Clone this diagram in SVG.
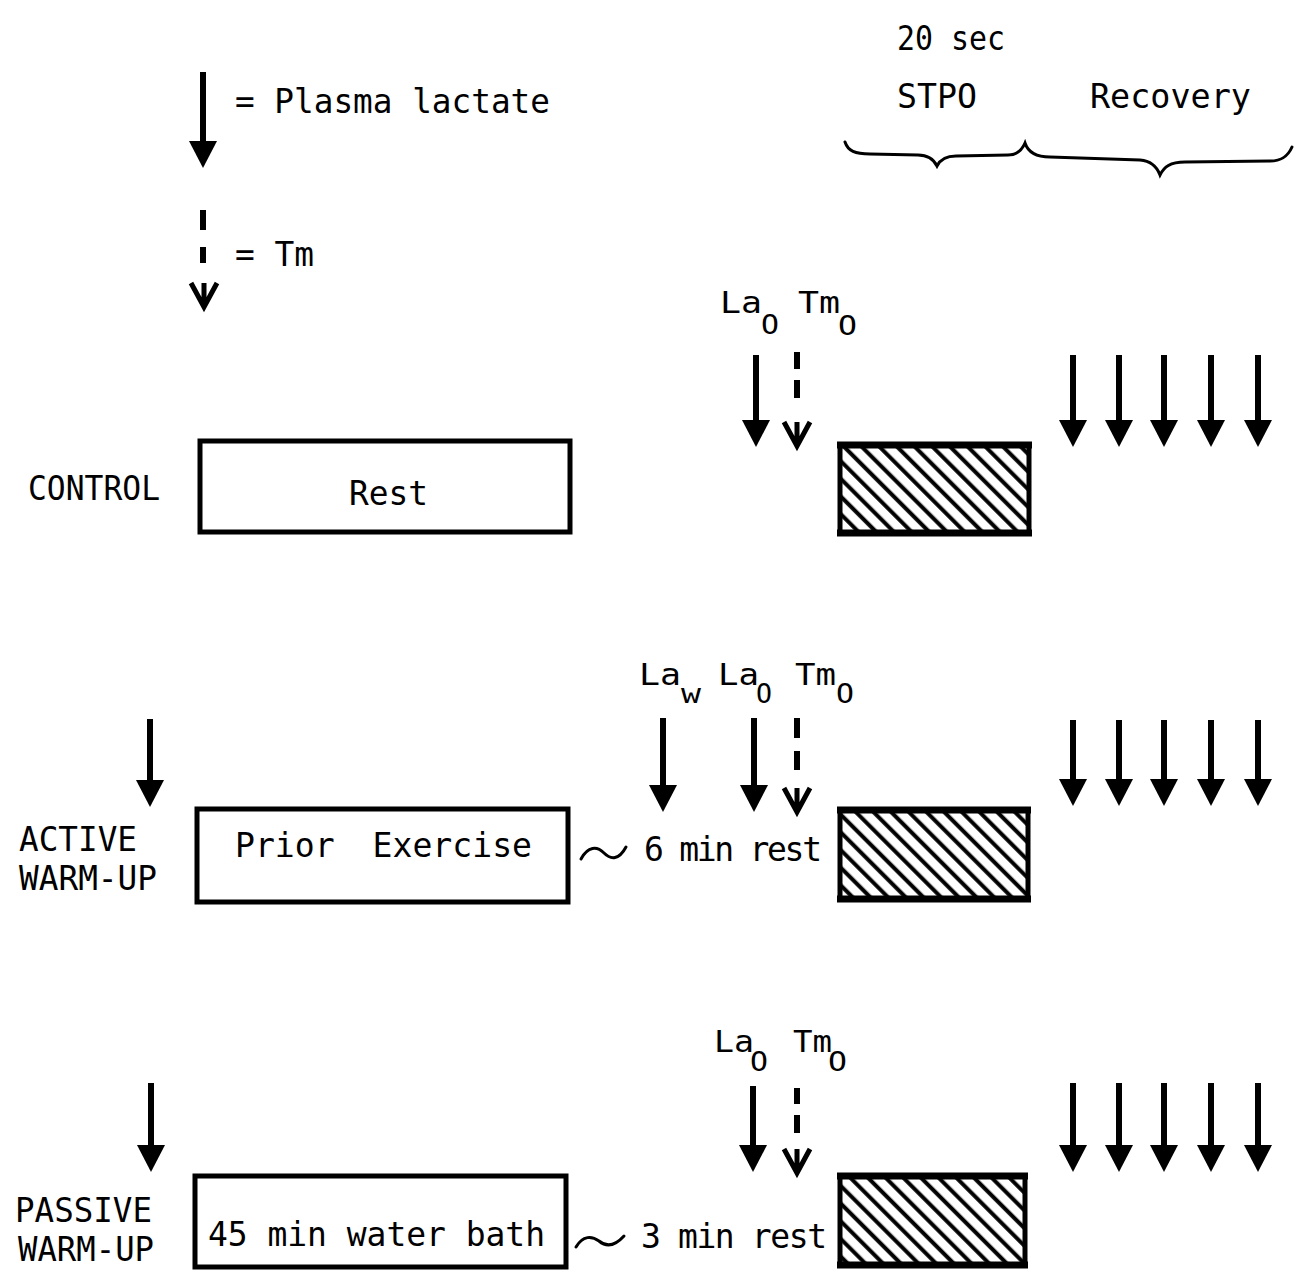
<svg xmlns="http://www.w3.org/2000/svg" xmlns:xlink="http://www.w3.org/1999/xlink" width="1296" height="1270" viewBox="0 0 1296 1270">
<style>
.t{font-family:"DejaVu Sans Mono","Liberation Mono",monospace;font-size:33px;fill:#000}
.lb{font-family:"DejaVu Sans Mono","Liberation Mono",monospace;font-size:30px;fill:#000}
.sb{font-family:"DejaVu Sans Mono","Liberation Mono",monospace;font-size:27px;fill:#000}
.box{fill:#fff;stroke:#000;stroke-width:5}
.hbox{fill:url(#hatch);stroke:#000;stroke-width:5}
.edge{stroke:#000;stroke-width:7}
.sa{stroke:#000;stroke-width:6;fill:none;marker-end:url(#ah)}
.da{stroke:#000;stroke-width:6;fill:none}
.vh{stroke:#000;stroke-width:5;fill:none;stroke-linejoin:miter}
.ln{stroke:#000;stroke-width:3;fill:none;stroke-linecap:round}
</style>
<defs>
<marker id="ah" viewBox="0 0 27 28" refX="7" refY="14" markerWidth="27" markerHeight="28" markerUnits="userSpaceOnUse" orient="auto">
<path d="M0,0 L27,14 L0,28 Z" fill="#000"/>
</marker>
<pattern id="hatch" patternUnits="userSpaceOnUse" width="12.5" height="12.5" patternTransform="rotate(-45)">
<rect width="12.5" height="12.5" fill="#fff"/>
<line x1="6" y1="-1" x2="6" y2="14" stroke="#000" stroke-width="4"/>
</pattern>
<path id="vh" d="M-13,-24 L0,0 L13,-24 M0,-24 L0,0"/>
</defs>

<g id="legend">
<line class="sa" x1="203" y1="72" x2="203" y2="148"/>
<text class="t" x="235" y="113" textLength="315" lengthAdjust="spacingAndGlyphs">= Plasma lactate</text>
<line class="da" x1="203" y1="210" x2="203" y2="230"/>
<line class="da" x1="203" y1="247" x2="203" y2="263"/>
<use xlink:href="#vh" class="vh" x="204" y="307"/>
<text class="t" x="235" y="266" textLength="79" lengthAdjust="spacingAndGlyphs">= Tm</text>
</g>

<g id="header">
<text class="t" x="897" y="50" textLength="108" lengthAdjust="spacingAndGlyphs">20 sec</text>
<text class="t" x="897" y="108" textLength="80" lengthAdjust="spacingAndGlyphs">STPO</text>
<text class="t" x="1090" y="108" textLength="161" lengthAdjust="spacingAndGlyphs">Recovery</text>
<path class="ln" d="M845,142 C848,151 855,154 870,154 L918,155 C929,155 934,160 937,166 C940,160 945,156 956,156 L1008,155 C1017,155 1022,150 1025,143 C1028,152 1035,157 1050,157 L1140,160 C1152,161 1157,167 1160,175 C1164,167 1170,162 1185,162 L1270,161 C1282,161 1288,156 1292,147"/>
</g>

<g id="control">
<text class="t" x="28" y="500" textLength="132" lengthAdjust="spacingAndGlyphs">CONTROL</text>
<rect class="box" x="200" y="441" width="370" height="91"/>
<text class="t" x="349" y="505" textLength="79" lengthAdjust="spacingAndGlyphs">Rest</text>
<text class="lb" x="720" y="313" textLength="42" lengthAdjust="spacingAndGlyphs">La</text>
<text class="sb" x="761" y="334" textLength="18" lengthAdjust="spacingAndGlyphs">O</text>
<text class="lb" x="798" y="313" textLength="42" lengthAdjust="spacingAndGlyphs">Tm</text>
<text class="sb" x="838" y="335" textLength="19" lengthAdjust="spacingAndGlyphs">O</text>
<rect class="hbox" x="840" y="445" width="189" height="88"/>
<line class="edge" x1="837" y1="445" x2="1032" y2="445"/>
<line class="edge" x1="837" y1="533" x2="1032" y2="533"/>
</g>

<g id="active">
<text class="t" x="19" y="851" textLength="118" lengthAdjust="spacingAndGlyphs">ACTIVE</text>
<text class="t" x="19" y="890" textLength="138" lengthAdjust="spacingAndGlyphs">WARM-UP</text>
<rect class="box" x="197" y="809" width="371" height="93"/>
<text class="t" x="235" y="857" textLength="297" lengthAdjust="spacingAndGlyphs" style="word-spacing:18px">Prior Exercise</text>
<path class="ln" d="M581,859 C588,846 597,846 604,853 C611,860 619,860 626,847"/>
<text class="t" x="644" y="861" textLength="178" lengthAdjust="spacing">6 min rest</text>
<text class="lb" x="639" y="685" textLength="42" lengthAdjust="spacingAndGlyphs">La</text>
<text class="sb" x="681" y="703" textLength="20" lengthAdjust="spacingAndGlyphs">w</text>
<text class="lb" x="718" y="685" textLength="41" lengthAdjust="spacingAndGlyphs">La</text>
<text class="sb" x="756" y="703" textLength="16" lengthAdjust="spacingAndGlyphs">O</text>
<text class="lb" x="795" y="685" textLength="41" lengthAdjust="spacingAndGlyphs">Tm</text>
<text class="sb" x="836" y="703" textLength="18" lengthAdjust="spacingAndGlyphs">O</text>
<rect class="hbox" x="840" y="810" width="188" height="89"/>
<line class="edge" x1="837" y1="810" x2="1031" y2="810"/>
<line class="edge" x1="837" y1="899" x2="1031" y2="899"/>
</g>

<g id="passive">
<text class="t" x="15" y="1222" textLength="137" lengthAdjust="spacingAndGlyphs">PASSIVE</text>
<text class="t" x="18" y="1261" textLength="136" lengthAdjust="spacingAndGlyphs">WARM-UP</text>
<rect class="box" x="195" y="1176" width="371" height="91"/>
<text class="t" x="208" y="1246" textLength="337" lengthAdjust="spacing">45 min water bath</text>
<path class="ln" d="M576,1247 C583,1235 592,1236 599,1241 C606,1247 614,1247 624,1236"/>
<text class="t" x="641" y="1248" textLength="186" lengthAdjust="spacing">3 min rest</text>
<text class="lb" x="714" y="1052" textLength="40" lengthAdjust="spacingAndGlyphs">La</text>
<text class="sb" x="750" y="1071" textLength="18" lengthAdjust="spacingAndGlyphs">O</text>
<text class="lb" x="793" y="1052" textLength="39" lengthAdjust="spacingAndGlyphs">Tm</text>
<text class="sb" x="828" y="1071" textLength="19" lengthAdjust="spacingAndGlyphs">O</text>
<rect class="hbox" x="840" y="1176" width="185" height="89"/>
<line class="edge" x1="837" y1="1176" x2="1028" y2="1176"/>
<line class="edge" x1="837" y1="1265" x2="1028" y2="1265"/>
</g>

<g id="connectors">
<line class="sa" x1="756" y1="355" x2="756" y2="427"/>
<line class="da" x1="797" y1="352" x2="797" y2="369"/>
<line class="da" x1="797" y1="380" x2="797" y2="398"/>
<use xlink:href="#vh" class="vh" x="797" y="446"/>
<line class="sa" x1="1073" y1="355" x2="1073" y2="427"/>
<line class="sa" x1="1119" y1="355" x2="1119" y2="427"/>
<line class="sa" x1="1164" y1="355" x2="1164" y2="427"/>
<line class="sa" x1="1211" y1="355" x2="1211" y2="427"/>
<line class="sa" x1="1258" y1="355" x2="1258" y2="427"/>

<line class="sa" x1="150" y1="719" x2="150" y2="787"/>
<line class="sa" x1="663" y1="718" x2="663" y2="792"/>
<line class="sa" x1="754" y1="718" x2="754" y2="792"/>
<line class="da" x1="797" y1="718" x2="797" y2="738"/>
<line class="da" x1="797" y1="751" x2="797" y2="770"/>
<use xlink:href="#vh" class="vh" x="797" y="812"/>
<line class="sa" x1="1073" y1="720" x2="1073" y2="786"/>
<line class="sa" x1="1119" y1="720" x2="1119" y2="786"/>
<line class="sa" x1="1164" y1="720" x2="1164" y2="786"/>
<line class="sa" x1="1211" y1="720" x2="1211" y2="786"/>
<line class="sa" x1="1258" y1="720" x2="1258" y2="786"/>

<line class="sa" x1="151" y1="1083" x2="151" y2="1152"/>
<line class="sa" x1="753" y1="1086" x2="753" y2="1152"/>
<line class="da" x1="797" y1="1088" x2="797" y2="1104"/>
<line class="da" x1="797" y1="1115" x2="797" y2="1133"/>
<use xlink:href="#vh" class="vh" x="797" y="1173"/>
<line class="sa" x1="1073" y1="1083" x2="1073" y2="1152"/>
<line class="sa" x1="1119" y1="1083" x2="1119" y2="1152"/>
<line class="sa" x1="1164" y1="1083" x2="1164" y2="1152"/>
<line class="sa" x1="1211" y1="1083" x2="1211" y2="1152"/>
<line class="sa" x1="1258" y1="1083" x2="1258" y2="1152"/>
</g>
</svg>
